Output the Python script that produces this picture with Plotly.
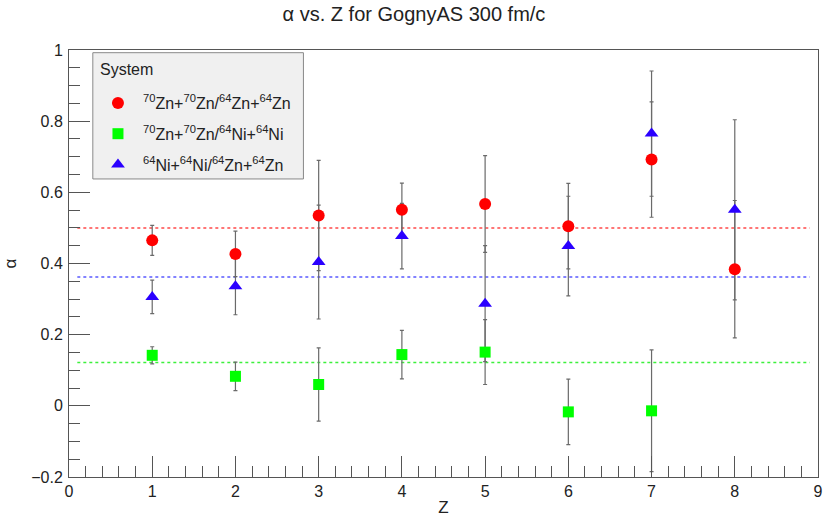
import plotly.graph_objects as go

# ---- data ----
z_vals = [1, 2, 3, 4, 5, 6, 7, 8]
z_green = [1, 2, 3, 4, 5, 6, 7]

red_alpha = [0.465, 0.427, 0.535, 0.551, 0.567, 0.505, 0.692, 0.384]
red_err = [0.042, 0.064, 0.155, 0.075, 0.136, 0.120, 0.162, 0.193]

green_alpha = [0.142, 0.083, 0.060, 0.144, 0.151, -0.017, -0.014]
green_err = [0.024, 0.040, 0.103, 0.068, 0.091, 0.092, 0.171]

blue_alpha = [0.306, 0.336, 0.404, 0.477, 0.287, 0.449, 0.765, 0.551]
blue_err = [0.047, 0.080, 0.160, 0.092, 0.163, 0.140, 0.176, 0.253]

mean_x = [0.1, 8.9]
red_mean = 0.500
blue_mean = 0.362
green_mean = 0.122

names = [
    "<sup>70</sup>Zn+<sup>70</sup>Zn/<sup>64</sup>Zn+<sup>64</sup>Zn",
    "<sup>70</sup>Zn+<sup>70</sup>Zn/<sup>64</sup>Ni+<sup>64</sup>Ni",
    "<sup>64</sup>Ni+<sup>64</sup>Ni/<sup>64</sup>Zn+<sup>64</sup>Zn",
]
legend_title = "System"

FONT = "Liberation Sans, Arial, sans-serif"
ERRC = "#6a6a6a"

fig = go.Figure()

# mean lines
for m, c in [(red_mean, "#ff4a4a"), (blue_mean, "#5a5aff"), (green_mean, "#3cf03c")]:
    fig.add_trace(go.Scatter(x=mean_x, y=[m, m], mode="lines",
                             line=dict(color=c, width=1.5, dash="3px,3px"),
                             showlegend=False, hoverinfo="skip"))

# error bars (drawn below all markers)
for xs, ys, es in [(z_vals, red_alpha, red_err), (z_green, green_alpha, green_err),
                   (z_vals, blue_alpha, blue_err)]:
    fig.add_trace(go.Scatter(x=xs, y=ys, mode="markers",
                             marker=dict(size=2, opacity=0),
                             error_y=dict(type="data", array=es, visible=True,
                                          color=ERRC, thickness=1.2, width=2),
                             showlegend=False, hoverinfo="skip"))

# markers
fig.add_trace(go.Scatter(x=z_vals, y=red_alpha, mode="markers", name=names[0],
                         legendgroup="a",
                         marker=dict(symbol="circle", size=12, color="#ff0000",
                                     line=dict(width=0))))
fig.add_trace(go.Scatter(x=z_green, y=green_alpha, mode="markers", name=names[1],
                         legendgroup="b",
                         marker=dict(symbol="square", size=11, color="#00ff00",
                                     line=dict(width=0))))
fig.add_trace(go.Scatter(x=z_vals, y=blue_alpha, mode="markers", name=names[2],
                         legendgroup="c",
                         marker=dict(symbol="triangle-up", size=12, color="#2a00ff",
                                     line=dict(width=0))))

axis_common = dict(
    showgrid=False, zeroline=False, showline=True, linecolor="#555555",
    linewidth=1, mirror=True, ticks="inside", tickcolor="#555555",
    ticklen=21, tickwidth=1,
    tickfont=dict(family=FONT, size=16, color="#222222"),
)

# legend frame (ROOT-style box with header)
fig.add_shape(type="rect", xref="paper", yref="paper",
              x0=0.0318, x1=0.313, y0=0.698, y1=0.9937,
              line=dict(color="#888888", width=1), fillcolor="#f0f0f0",
              layer="above")
fig.add_annotation(text=legend_title, xref="paper", yref="paper",
                   x=0.0385, y=0.9555, xanchor="left", yanchor="middle",
                   showarrow=False, font=dict(family=FONT, size=16, color="#222222"))

fig.update_layout(
    width=828, height=521,
    margin=dict(l=69, r=5, t=50, b=44),
    paper_bgcolor="white", plot_bgcolor="white",
    font=dict(family=FONT, color="#222222"),
    title=dict(text="α vs. Z for GognyAS 300 fm/c",
               font=dict(family=FONT, size=20, color="#222222"),
               x=0.5, xref="container", xanchor="center",
               y=1 - 14 / 521, yref="container", yanchor="middle"),
    xaxis=dict(range=[0, 9], dtick=1, tick0=0,
               minor=dict(dtick=0.2, ticks="inside", ticklen=11, tickcolor="#555555"),
               title=dict(text="Z", font=dict(family=FONT, size=17), standoff=1),
               **axis_common),
    yaxis=dict(range=[-0.2, 1], dtick=0.2, tick0=0,
               minor=dict(dtick=0.05, ticks="inside", ticklen=11, tickcolor="#555555"),
               ticklabelstandoff=2,
               title=dict(text="α", font=dict(family=FONT, size=17), standoff=10),
               **axis_common),
    legend=dict(
        x=0.032, y=0.9157, xanchor="left", yanchor="top",
        bgcolor="rgba(0,0,0,0)", borderwidth=0,
        font=dict(family=FONT, size=16, color="#222222"),
        traceorder="grouped", tracegroupgap=7,
        itemwidth=40,
    ),
)

fig.write_html("out.html")
